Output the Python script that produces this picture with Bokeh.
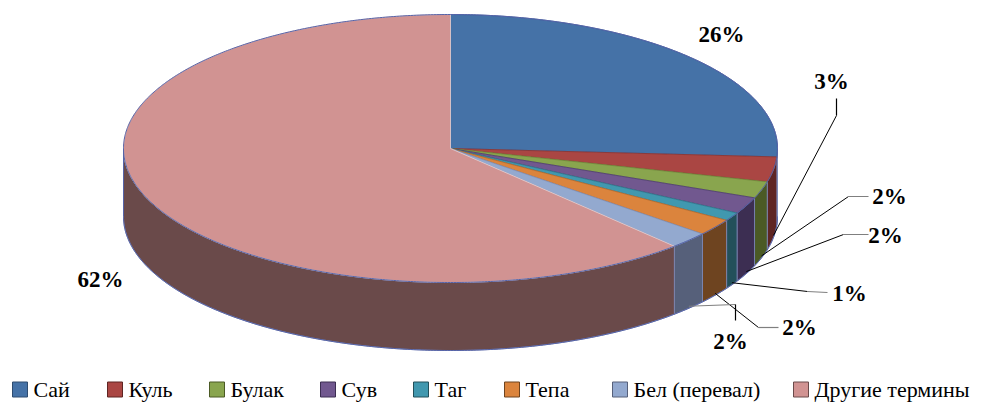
import numpy as np
from bokeh.plotting import figure
from bokeh.models import Range1d
from bokeh.core.properties import value
from bokeh.embed import file_html
from bokeh.resources import INLINE

# ---- data ----
categories = ["Сай", "Куль", "Булак", "Сув", "Таг", "Тепа", "Бел (перевал)", "Другие термины"]
shares = [26, 3, 2, 2, 1, 2, 2, 62]
labels = ["26%", "3%", "2%", "2%", "1%", "2%", "2%", "62%"]

top_colors = ["#4572A7", "#AA4643", "#89A54E", "#71588F", "#4198AF", "#DB843D", "#93A9CF", "#D19392"]
side_colors = ["#2E4C70", "#5E2523", "#4B5A25", "#3C2E52", "#23505A", "#6E4420", "#56607A", "#6A4A4A"]
edge_colors = ["#3A5A95", "#8A3330", "#6E8A3A", "#4F3E70", "#2D7A8E", "#B86A2A", "#7C90BC", "#E8D0D0"]

FONT_LAB = "Times New Roman"
FONT_LEG = "serif"

# ---- geometry (image pixel coordinates, y down) ----
CX, CY, RX, RY, DEPTH = 450.0, 148.0, 327.0, 134.0, 68.0

p = figure(width=992, height=403, output_backend="svg", toolbar_location=None,
           x_range=Range1d(0, 992), y_range=Range1d(403, 0),
           min_border=0, outline_line_color=None)
p.axis.visible = False
p.grid.visible = False
p.background_fill_color = "white"


def pt(theta_deg, dy=0.0):
    t = np.radians(theta_deg)
    return CX + RX * np.cos(t), CY - RY * np.sin(t) + dy


total = float(sum(shares))
cum = np.concatenate([[0.0], np.cumsum(shares)]) / total
starts = 90.0 - cum[:-1] * 360.0
ends = 90.0 - cum[1:] * 360.0

# side walls (front half only: angles between -180 and 0)
side_xs, side_ys, side_fc = [], [], []
for i in range(len(shares)):
    a1, a2 = starts[i], ends[i]  # a1 > a2
    lo, hi = max(a2, -180.0), min(a1, 0.0)
    if hi - lo <= 0:
        continue
    th = np.linspace(hi, lo, max(int((hi - lo) * 2), 4))
    xt, yt = pt(th)
    xb, yb = pt(th[::-1], DEPTH)
    side_xs.append(list(np.concatenate([xt, xb])))
    side_ys.append(list(np.concatenate([yt, yb])))
    side_fc.append(side_colors[i])

p.patches(side_xs, side_ys, fill_color=side_fc, line_color="#7C88B8", line_width=0.8)

# top slices
top_xs, top_ys = [], []
for i in range(len(shares)):
    th = np.linspace(starts[i], ends[i], max(int(abs(starts[i] - ends[i]) * 2), 4))
    x, y = pt(th)
    top_xs.append([CX] + list(x))
    top_ys.append([CY] + list(y))
p.patches(top_xs, top_ys, fill_color=top_colors, line_color=edge_colors, line_width=0.8)

# outer rim outline
th = np.linspace(0, 360, 721)
ox, oy = pt(th)
p.line(ox, oy, line_color="#5563A8", line_width=1)
th = np.linspace(-180, 0, 361)
bx, by = pt(th, DEPTH)
p.line(bx, by, line_color="#5563A8", line_width=1)
lx, ly = pt(np.array([180.0, 180.0]), np.array([0.0, DEPTH]))
p.line(lx, ly, line_color="#5563A8", line_width=1)

# ---- data labels ----
label_x = [721, 831, 889, 885, 849, 799, 730, 100]
label_y = [34, 81, 196, 235, 293, 327, 341, 279]
p.text(label_x, label_y, text=labels, text_font=value(FONT_LAB),
       text_font_style="bold", text_font_size="23px", text_align="center",
       text_baseline="middle", text_color="black")

# leader lines for small slices: start at slice mid-angle on lower rim
elbow = {1: (836, 115), 2: (848, 196), 3: (843, 234), 4: (807, 291), 5: (758, 327), 6: (735, 304)}
tail = {1: (836, 98), 2: (868, 196), 3: (868, 234), 4: (827, 292), 5: (778, 327), 6: (735, 320)}
seg1_col = {1: "black", 2: "black", 3: "black", 4: "black", 5: "black", 6: "#7F7F7F"}
seg2_col = {1: "black", 2: "#7F7F7F", 3: "#7F7F7F", 4: "#7F7F7F", 5: "#7F7F7F", 6: "black"}
xs1, ys1, c1, xs2, ys2, c2 = [], [], [], [], [], []
for i in range(1, 7):
    mid = (starts[i] + ends[i]) / 2.0
    sx, sy = pt(mid, DEPTH - 2)
    ex, ey = elbow[i]
    tx, ty = tail[i]
    xs1.append([float(sx), ex]); ys1.append([float(sy), ey]); c1.append(seg1_col[i])
    xs2.append([ex, tx]); ys2.append([ey, ty]); c2.append(seg2_col[i])
p.multi_line(xs1, ys1, line_color=c1, line_width=1)
p.multi_line(xs2, ys2, line_color=c2, line_width=1.2)

# ---- legend ----
leg_box_x = [12, 107, 209, 320, 413, 504, 612, 793]
leg_y = 389
box = 15
p.rect([x + box / 2 for x in leg_box_x], [leg_y] * 8, width=box, height=box,
       fill_color=top_colors, line_color=side_colors, line_width=1)
p.text([x + box + 6 for x in leg_box_x], [leg_y] * 8, text=categories,
       text_font=value(FONT_LEG), text_font_size="22px",
       text_align="left", text_baseline="middle", text_color="black")

open("out.html", "w").write(file_html(p, INLINE))
